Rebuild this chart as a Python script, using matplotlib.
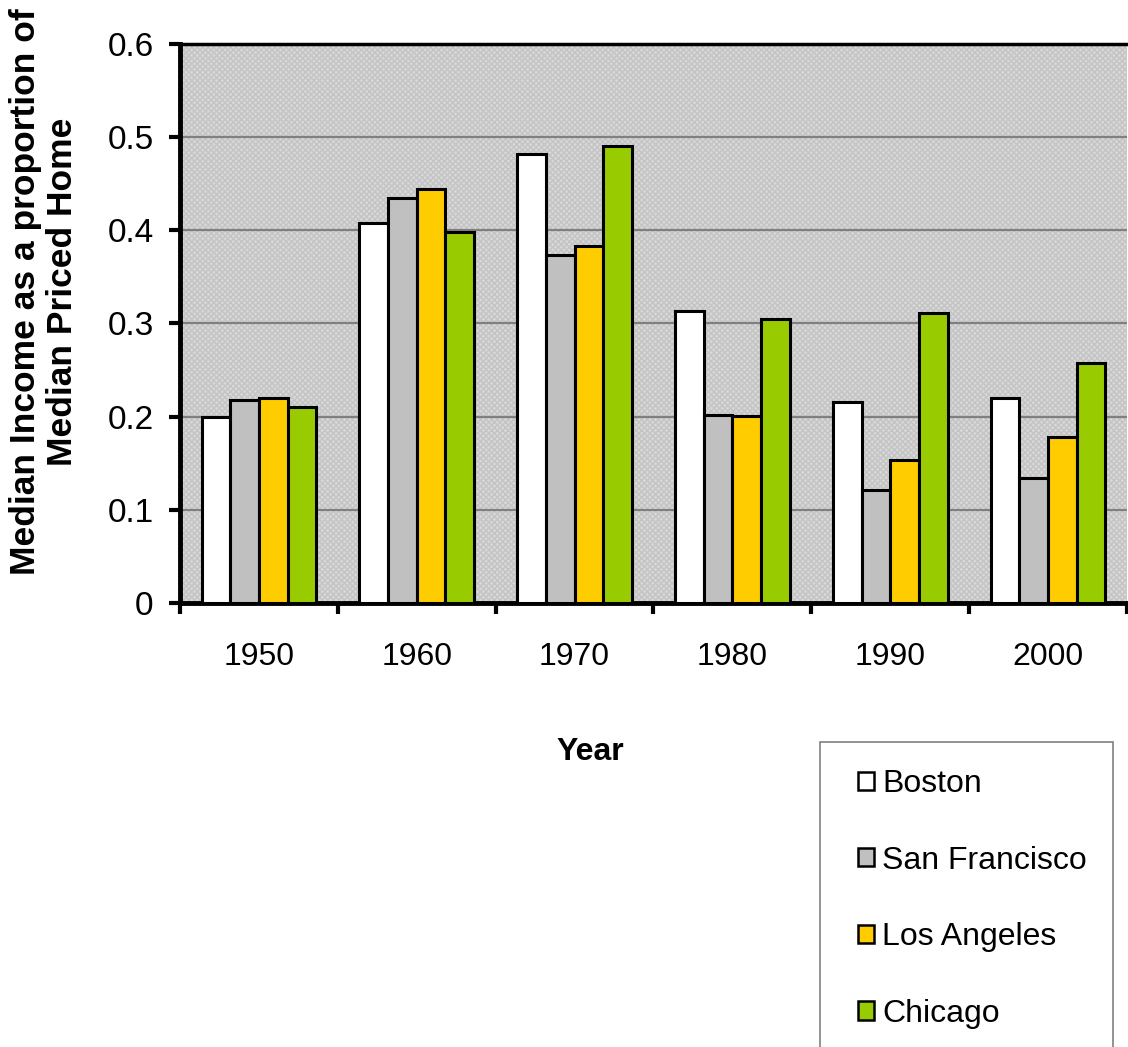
import numpy as np
import matplotlib
matplotlib.use("Agg")
import matplotlib.pyplot as plt
from matplotlib.patches import Rectangle

plt.rcParams['font.family'] = ['Liberation Sans', 'DejaVu Sans']
plt.rcParams['hatch.linewidth'] = 1.0

years = ['1950', '1960', '1970', '1980', '1990', '2000']
cities = ['Boston', 'San Francisco', 'Los Angeles', 'Chicago']
boston = [0.200, 0.408, 0.482, 0.313, 0.216, 0.220]
san_francisco = [0.218, 0.435, 0.374, 0.202, 0.121, 0.134]
los_angeles = [0.220, 0.444, 0.383, 0.201, 0.153, 0.178]
chicago = [0.210, 0.398, 0.491, 0.305, 0.311, 0.258]
colors = ['#ffffff', '#c0c0c0', '#ffcc00', '#99cc00']

series = [boston, san_francisco, los_angeles, chicago]

W, H = 1128, 1047
fig = plt.figure(figsize=(W / 100, H / 100), dpi=100)
ax = fig.add_axes([180 / W, 1 - 603 / H, 947 / W, (603 - 44) / H])

# patterned plot area
ax.set_facecolor('#d8d8d8')
ax.add_patch(Rectangle((0, 0), 1, 1, transform=ax.transAxes, facecolor='none',
                       hatch='xxxxxx', edgecolor='#c4c4c4', lw=0, zorder=0))

x = np.arange(len(years))
w = 1 / 5.5
for i, (vals, name, c) in enumerate(zip(series, cities, colors)):
    ax.bar(x + (i - 1.5) * w, vals, width=w, color=c, edgecolor='black',
           linewidth=2.2, label=name, zorder=3)

ax.set_xlim(-0.5, len(years) - 0.5)
ax.set_ylim(0, 0.6)
ax.set_yticks(np.arange(0, 0.61, 0.1))
ax.set_yticklabels(['0', '0.1', '0.2', '0.3', '0.4', '0.5', '0.6'])
ax.yaxis.grid(True, color='#808080', linewidth=1.6, zorder=1)
ax.set_axisbelow(True)

ax.set_xticks(x)
ax.set_xticklabels(years)
ax.set_xticks(np.arange(-0.5, len(years)), minor=True)
ax.tick_params(axis='x', which='major', length=0, pad=28, labelsize=23)
ax.tick_params(axis='x', which='minor', length=8, width=3, direction='out')
ax.tick_params(axis='y', length=8, width=3, direction='out', pad=11, labelsize=24)

for s in ['left', 'bottom']:
    ax.spines[s].set_linewidth(3.5)
ax.spines['top'].set_linewidth(2.5)
ax.spines['right'].set_visible(False)

fig.text(44 / W, 1 - 292 / H,
         'Median Income as a proportion of\nMedian Priced Home',
         rotation=90, ha='center', va='center', multialignment='center',
         fontsize=25.5, fontweight='bold', linespacing=1.12)
fig.text(590 / W, 1 - 752 / H, 'Year', ha='center', va='center',
         fontsize=23, fontweight='bold')

# legend box
fig.patches.append(Rectangle((820 / W, -0.05), 293 / W, 1 - 742 / H + 0.05,
                             transform=fig.transFigure, facecolor='white',
                             edgecolor='#808080', linewidth=1.2, zorder=0))
leg = fig.legend(loc='upper left', bbox_to_anchor=(858 / W, 1 - 769 / H),
                 bbox_transform=fig.transFigure, fontsize=23, frameon=False,
                 handlelength=0.5, handleheight=0.5, handletextpad=0.25,
                 labelspacing=1.46, borderpad=0, borderaxespad=0)
for h in leg.legend_handles:
    h.set_linewidth(1.8)

fig.savefig('out.png', dpi=100)
